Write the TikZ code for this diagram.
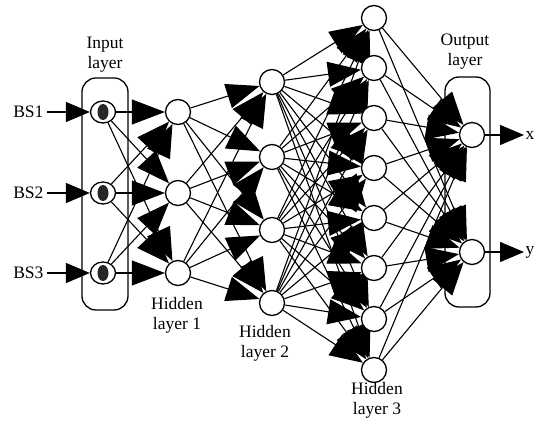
\documentclass[tikz,border=0pt]{standalone}
\usepackage{fontspec}
\setmainfont{Liberation Serif}
\usetikzlibrary{arrows.meta,shapes.geometric,backgrounds}

\tikzset{
  neuron/.style={circle, draw, fill=white, line width=1.3pt, minimum size=25pt, inner sep=0pt},
  inneuron/.style={ellipse, draw, fill=white, line width=1.3pt, minimum width=25pt, minimum height=22pt, inner sep=0pt},
  link/.style={line width=1.1pt, -{Triangle[length=33pt,width=25pt]}},
  iolink/.style={line width=1.3pt, -{Triangle[length=24pt,width=20pt]}},
  layerbox/.style={draw, line width=1.3pt, rounded corners=14pt},
  lbl/.style={font=\fontsize{17.5}{20}\selectfont, align=center}
}

\begin{document}
\begin{tikzpicture}[x=1pt, y=-1pt]
                \useasboundingbox (0,0) rectangle (536,427);
                % neurons
                \foreach \y [count=\i] in {112,193,273} {
                    \node[inneuron] (in\i) at (103,\y) {};
                    \fill[black!85] (in\i) ellipse (5.5pt and 8pt);
                }
                \foreach \y [count=\i] in {112,193,273}
                    \node[neuron] (ha\i) at (178,\y) {};
                \foreach \y [count=\i] in {82,157,230,303}
                    \node[neuron] (hb\i) at (272,\y) {};
                \foreach \y [count=\i] in {18,68,118,168,218,268,319,370}
                    \node[neuron] (hc\i) at (374,\y) {};
                \node[neuron] (out1) at (472,135) {};
                \node[neuron] (out2) at (472,252) {};
                % labels
                \node[lbl] (inlab) at (105,55) {Input\\layer};
                \node[lbl] (outlab) at (465,52) {Output\\layer};
                \node[lbl] (halab) at (177,315) {Hidden\\layer 1};
                \node[lbl] (hblab) at (265,343) {Hidden\\layer 2};
                \node[lbl] (hclab) at (377,400) {Hidden\\layer 3};
                \node[lbl, anchor=east] (bs1) at (47,112) {BS1};
                \node[lbl, anchor=east] (bs2) at (47,193) {BS2};
                \node[lbl, anchor=east] (bs3) at (47,273) {BS3};
                \node[lbl, anchor=west, inner xsep=1.5pt] (xlab) at (524,135) {x};
                \node[lbl, anchor=west, inner xsep=1.5pt] (ylab) at (524,252) {y};
                \draw[iolink] (bs1) -- (in1);
                \draw[iolink] (bs2) -- (in2);
                \draw[iolink] (bs3) -- (in3);
                \draw[iolink] (out1) -- (xlab);
                \draw[iolink] (out2) -- (ylab);
                \begin{pgfonlayer}{background}
                    \draw[layerbox] (82,78) rectangle (128,310);
                    \draw[layerbox] (445,77) rectangle (490,307);
                    \foreach \i in {1,2,3} \foreach \j in {1,2,3}
                        \draw[link] (in\i) -- (ha\j);
                    \foreach \i in {1,...,3} \foreach \j in {1,...,4}
                        \draw[link] (ha\i) -- (hb\j);
                    \foreach \i in {1,...,4} \foreach \j in {1,...,8}
                        \draw[link] (hb\i) -- (hc\j);
                    \foreach \i in {1,...,8} \foreach \j in {1,2}
                        \draw[link] (hc\i) -- (out\j);
                \end{pgfonlayer}
            \end{tikzpicture}
\end{document}
